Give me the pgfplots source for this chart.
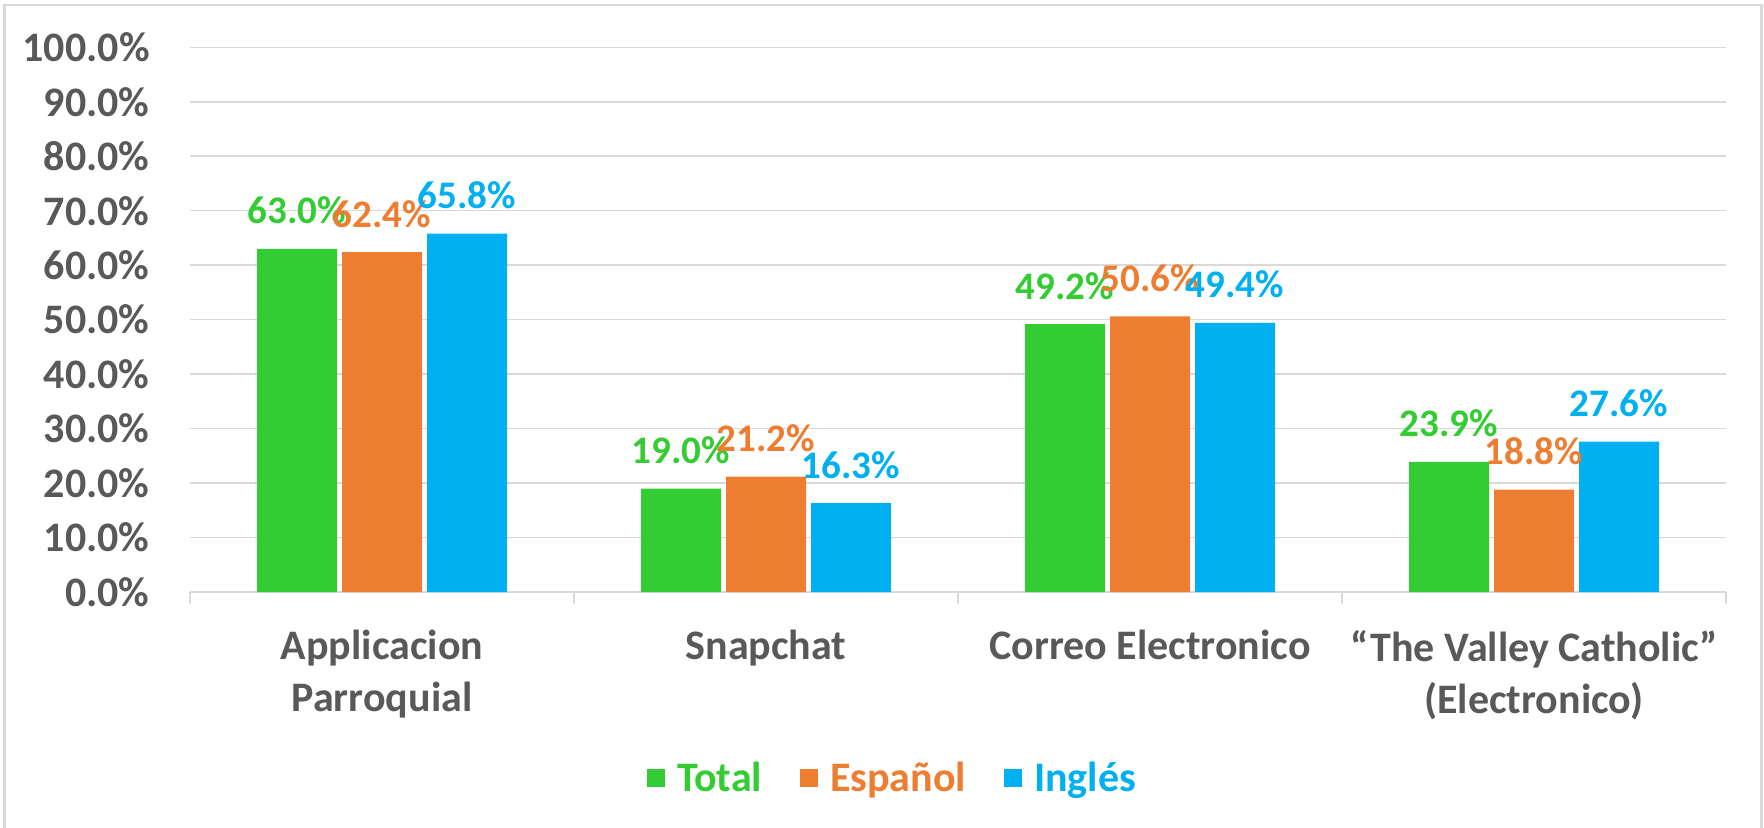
\documentclass[border=0pt]{standalone}
\usepackage{pgfplots}
\pgfplotsset{compat=1.18}
\usepackage{fontspec}
\setmainfont{Carlito}
\definecolor{cgreen}{HTML}{33CC33}
\definecolor{corange}{HTML}{ED7D31}
\definecolor{cblue}{HTML}{00B0F0}
\definecolor{textgray}{HTML}{595959}
\definecolor{gridgray}{HTML}{D9D9D9}
\begin{document}
\begin{tikzpicture}
\useasboundingbox (0,0) rectangle (882pt,413.5pt);
\fill[white] (0,0) rectangle (882pt,413.5pt);
\draw[gridgray, line width=1.3pt] (2.2pt,-5pt) -- (2.2pt,411pt) -- (880.8pt,411pt) -- (880.8pt,-5pt);
\begin{axis}[
  at={(95pt,117.5pt)}, anchor=south west,
  scale only axis, width=768pt, height=272.35pt,
  ybar=2.5pt, bar width=40pt,
  xmin=-0.5, xmax=3.5, ymin=0, ymax=100,
  axis line style={draw=none},
  major tick length=0pt,
  ytick={0,10,...,100},
  yticklabels={0.0\%,10.0\%,20.0\%,30.0\%,40.0\%,50.0\%,60.0\%,70.0\%,80.0\%,90.0\%,100.0\%},
  yticklabel style={anchor=east, inner sep=0pt, xshift=-20pt, font=\fontsize{21}{25}\selectfont\bfseries, text=textgray},
  ymajorgrids, grid style={draw=gridgray, line width=0.75pt},
  xtick={0,1,2,3},
  xticklabels={Applicacion\\Parroquial, Snapchat, Correo Electronico, “The Valley Catholic”\\(Electronico)},
  xticklabel style={align=center, anchor=north, inner sep=0pt, yshift=-19pt, font=\fontsize{21}{26}\selectfont\bfseries, text=textgray},
  extra x ticks={-0.5,0.5,1.5,2.5,3.5},
  extra x tick labels={},
  extra x tick style={major tick length=6pt, tick align=outside, xtick pos=left, xmajorgrids=false, tick style={draw=gridgray, line width=1.2pt}},
  extra y ticks={0},
  extra y tick labels={},
  extra y tick style={ymajorgrids=true, grid style={draw=gridgray, line width=1.3pt}},
  nodes near coords,
  point meta=explicit symbolic,
  every node near coord/.append style={anchor=base, yshift=12.5pt, inner sep=0pt, font=\fontsize{19.5}{23}\selectfont\bfseries},
  legend style={at={(0.458,-0.3415)}, anchor=center, draw=none, fill=none, legend columns=-1,
    font=\fontsize{21}{25}\selectfont\bfseries,
    /tikz/every even column/.append style={column sep=17pt}},
  legend image code/.code={\fill[#1] (0pt,-4.5pt) rectangle (9pt,4.5pt); \path (13pt,0pt);},
]
\addplot[fill=cgreen, draw=none, every node near coord/.append style={text=cgreen}]
  coordinates {(0,63.0) [63.0\%] (1,19.0) [19.0\%] (2,49.2) [49.2\%] (3,23.9) [23.9\%]};
\addlegendentry[text=cgreen]{Total}
\addplot[fill=corange, draw=none, every node near coord/.append style={text=corange}]
  coordinates {(0,62.4) [62.4\%] (1,21.2) [21.2\%] (2,50.6) [50.6\%] (3,18.8) [18.8\%]};
\addlegendentry[text=corange]{Español}
\addplot[fill=cblue, draw=none, every node near coord/.append style={text=cblue}]
  coordinates {(0,65.8) [65.8\%] (1,16.3) [16.3\%] (2,49.4) [49.4\%] (3,27.6) [27.6\%]};
\addlegendentry[text=cblue]{Inglés}
\end{axis}
\end{tikzpicture}
\end{document}
